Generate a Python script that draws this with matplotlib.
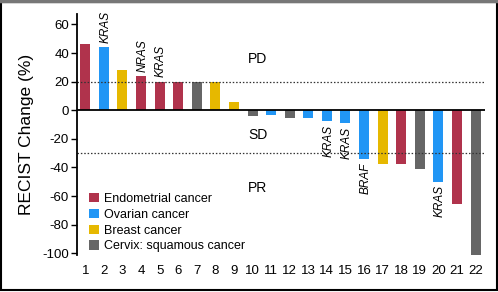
import matplotlib
matplotlib.use("Agg")
import matplotlib.pyplot as plt
from matplotlib.patches import Patch, Rectangle
from matplotlib.lines import Line2D

plt.rcParams['font.family'] = ['Liberation Sans', 'DejaVu Sans']
plt.rcParams['axes.unicode_minus'] = False

# Patient number and RECIST change (%)
patients = list(range(1, 23))
change = [46, 44, 28, 24, 20, 20, 20, 20, 6, -4, -3, -5.5, -5.5, -7.5, -9,
          -34, -37.5, -37.5, -41, -50, -65.5, -101]
cancer = ['Endometrial', 'Ovarian', 'Breast', 'Endometrial', 'Endometrial',
          'Endometrial', 'Cervix', 'Breast', 'Breast', 'Cervix', 'Ovarian',
          'Cervix', 'Ovarian', 'Ovarian', 'Ovarian', 'Ovarian', 'Breast',
          'Endometrial', 'Cervix', 'Ovarian', 'Endometrial', 'Cervix']

# mutation labels: patient -> gene
mutations = {2: 'KRAS', 4: 'NRAS', 5: 'KRAS', 14: 'KRAS', 15: 'KRAS',
             16: 'BRAF', 20: 'KRAS'}

colors = {'Endometrial': '#B0334C', 'Ovarian': '#2196F5',
          'Breast': '#E6B800', 'Cervix': '#666666'}
legend_labels = ['Endometrial cancer', 'Ovarian cancer', 'Breast cancer',
                 'Cervix: squamous cancer']

fig = plt.figure(figsize=(4.98, 2.92), dpi=100)
ax = fig.add_axes([0.1552, 0.1267, 0.8187, 0.825])

ax.bar(patients, change, width=0.54, color=[colors[c] for c in cancer])

# zero line and response thresholds
ax.axhline(0, color='black', lw=1.3)
ax.axhline(20, color='#333333', lw=0.9, ls=(0, (1.2, 1.5)))
ax.axhline(-30, color='#333333', lw=0.9, ls=(0, (1.2, 1.5)))

ax.text(9.76, 35.6, 'PD', fontsize=10, va='center', ha='left')
ax.text(9.76, -17.2, 'SD', fontsize=10, va='center', ha='left')
ax.text(9.76, -54.5, 'PR', fontsize=10, va='center', ha='left')

for p, gene in mutations.items():
    v = change[p - 1]
    if v > 0:
        ax.annotate(gene, (p + 0.08, v), xytext=(0, 3), textcoords='offset points',
                    rotation=90, ha='center', va='bottom', fontsize=8.5,
                    style='italic')
    else:
        ax.annotate(gene, (p + 0.08, v), xytext=(0, -2.5), textcoords='offset points',
                    rotation=90, ha='center', va='top', fontsize=8.5,
                    style='italic')

ax.set_xlim(0.569, 22.51)
ax.set_ylim(-101.2, 67.2)
ax.set_yticks(range(-100, 61, 20))
ax.set_xticks(patients)
ax.tick_params(axis='y', direction='out', length=4, width=1, labelsize=9.5, pad=2)
ax.tick_params(axis='x', length=0, labelsize=9.5, pad=7)
for s in ['top', 'right', 'bottom']:
    ax.spines[s].set_visible(False)
ax.spines['left'].set_linewidth(1.3)
ax.set_ylabel('RECIST Change (%)', fontsize=12.5, labelpad=6)

handles = [Patch(facecolor=colors[k], edgecolor='none')
           for k in ['Endometrial', 'Ovarian', 'Breast', 'Cervix']]
ax.legend(handles, legend_labels, loc='upper left', bbox_to_anchor=(0.008, 0.293),
          frameon=False, fontsize=9, handlelength=0.75, handleheight=0.75,
          handletextpad=0.4, labelspacing=0.3, borderaxespad=0.3)

# frame around the figure
fig.add_artist(Rectangle((0.003, 0.008), 0.994, 0.985, transform=fig.transFigure,
                         fill=False, edgecolor='black', lw=1.5))
fig.add_artist(Line2D([0, 1], [0.995, 0.995], transform=fig.transFigure,
                      color='#777777', lw=2.5))

fig.savefig('out.png', dpi=100)
